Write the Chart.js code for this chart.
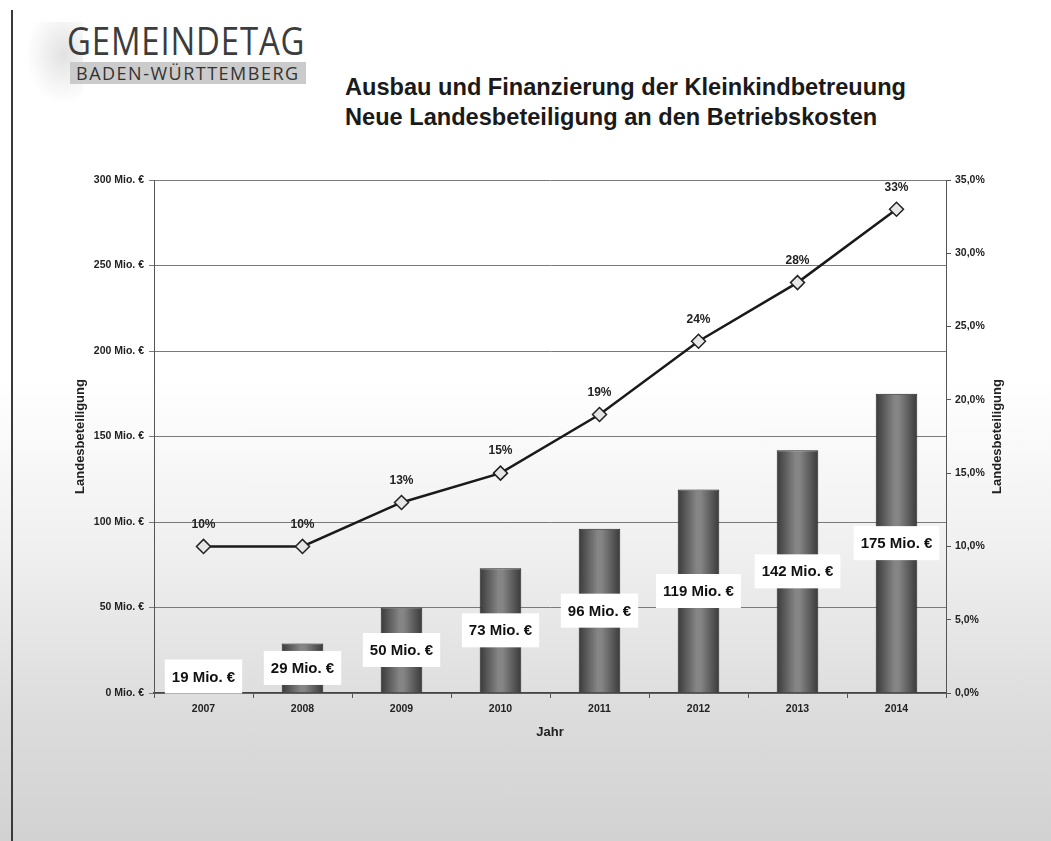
<!DOCTYPE html>
<html>
<head>
<meta charset="utf-8">
<script src="https://cdn.jsdelivr.net/npm/chart.js@4"></script>
<style>
  html, body { margin: 0; padding: 0; }
  body {
    width: 1051px; height: 841px; overflow: hidden; position: relative;
    background: linear-gradient(180deg, #ffffff 0%, #ffffff 45%, #f0f0f0 65%, #dcdcdc 85%, #d2d2d2 100%);
    font-family: "Liberation Sans", Arial, sans-serif;
  }
  #wrap { position: absolute; left: 0; top: 0; width: 1051px; height: 841px; }
  .vline { position: absolute; left: 11px; top: 10px; width: 2px; height: 831px; background: #3a3a3a; }
  .smudge { position: absolute; left: 28px; top: 22px; width: 55px; height: 80px;
    background: radial-gradient(ellipse at 65% 40%, rgba(190,190,190,0.45) 0%, rgba(210,210,210,0.2) 50%, rgba(255,255,255,0) 75%); }
  .logo1 { position: absolute; left: 67px; top: 21px; font-family: "Open Sans", sans-serif; font-weight: 400;
    font-size: 38px; letter-spacing: 1px; color: #3c3c3c; line-height: 1; transform: scaleX(0.865); transform-origin: left top; }
  .band { position: absolute; left: 70px; top: 62px; width: 236px; height: 22px; background: #cbcbcb; }
  .logo2 { position: absolute; left: 76px; top: 62px; font-family: "Open Sans", sans-serif; font-weight: 400;
    font-size: 18px; letter-spacing: 1.5px; color: #333; line-height: 22px; }
  .title { position: absolute; left: 345px; top: 72px; font-weight: bold; font-size: 23.6px; color: #1a1a1a; line-height: 30px; }
</style>
</head>
<body>
<div class="vline"></div>
<div class="smudge"></div>
<div class="logo1">GEMEINDETAG</div>
<div class="band"></div>
<div class="logo2">BADEN-WÜRTTEMBERG</div>
<div class="title">Ausbau und Finanzierung der Kleinkindbetreuung<br>Neue Landesbeteiligung an den Betriebskosten</div>
<div id="wrap"><canvas id="c"></canvas></div>
<script>
// ---- data ----
const years = ['2007', '2008', '2009', '2010', '2011', '2012', '2013', '2014'];
const fundingMio = [19, 29, 50, 73, 96, 119, 142, 175];
const sharePercent = [10, 10, 13, 15, 19, 24, 28, 33];
const leftTicksMax = 300;
const rightTicksMax = 35;
const axisTitle = 'Landesbeteiligung';
const xTitle = 'Jahr';

const FONT = '"Liberation Sans", Arial, sans-serif';
const BAR_PCT = 0.42;

function barGradient(ctx) {
  const chart = ctx.chart;
  const xs = chart.scales && chart.scales.x;
  if (!chart.chartArea || !xs || ctx.dataIndex === undefined) return '#666';
  const x = xs.getPixelForValue(ctx.dataIndex);
  const w = (xs.width / years.length) * BAR_PCT;
  if (!isFinite(x) || !isFinite(w) || w <= 0) return '#666';
  const g = chart.ctx.createLinearGradient(x - w / 2, 0, x + w / 2, 0);
  g.addColorStop(0, '#3a3a3a');
  g.addColorStop(0.45, '#858585');
  g.addColorStop(0.55, '#858585');
  g.addColorStop(1, '#3a3a3a');
  return g;
}

const labelPlugin = {
  id: 'labels',
  afterDatasetsDraw(chart) {
    const ctx = chart.ctx;
    ctx.save();
    const barMeta = chart.getDatasetMeta(0);
    ctx.font = 'bold 15px ' + FONT;
    ctx.textAlign = 'center';
    ctx.textBaseline = 'middle';
    barMeta.data.forEach((el, i) => {
      const txt = fundingMio[i] + ' Mio. €';
      const cy = (el.y + el.base) / 2;
      const w = ctx.measureText(txt).width + 14;
      const h = 34;
      ctx.fillStyle = '#ffffff';
      ctx.fillRect(el.x - w / 2, cy - h / 2, w, h);
      ctx.fillStyle = '#111';
      ctx.fillText(txt, el.x, cy + 1);
    });
    const lineMeta = chart.getDatasetMeta(1);
    ctx.font = 'bold 12px ' + FONT;
    ctx.fillStyle = '#222';
    lineMeta.data.forEach((el, i) => {
      ctx.fillText(sharePercent[i] + '%', el.x, el.y - 22);
    });
    ctx.restore();
  },
  afterDraw(chart) {
    // right axis title, reading bottom-to-top like the left one
    const s = chart.scales.y1;
    const ctx = chart.ctx;
    ctx.save();
    ctx.translate(s.right - 11.8, (chart.chartArea.top + chart.chartArea.bottom) / 2);
    ctx.rotate(-Math.PI / 2);
    ctx.font = 'bold 13px ' + FONT;
    ctx.fillStyle = '#222';
    ctx.textAlign = 'center';
    ctx.textBaseline = 'middle';
    ctx.fillText(axisTitle, 0, 0);
    ctx.restore();
  }
};

new Chart(document.getElementById('c'), {
  data: {
    labels: years,
    datasets: [
      {
        type: 'bar',
        label: 'Landesbeteiligung (Mio. €)',
        data: fundingMio,
        yAxisID: 'y',
        backgroundColor: barGradient,
        borderColor: '#222',
        borderWidth: 1,
        categoryPercentage: 1,
        barPercentage: BAR_PCT,
        order: 2
      },
      {
        type: 'line',
        label: 'Anteil',
        data: sharePercent,
        yAxisID: 'y1',
        borderColor: '#1a1a1a',
        borderWidth: 2.5,
        pointStyle: 'rectRot',
        pointRadius: 7,
        pointBackgroundColor: '#e6e6e6',
        pointBorderColor: '#222',
        pointBorderWidth: 1.5,
        tension: 0,
        order: 1
      }
    ]
  },
  options: {
    responsive: true,
    maintainAspectRatio: false,
    animation: false,
    devicePixelRatio: 1,
    layout: { padding: { left: 69, right: 42, top: 180, bottom: 97 } },
    plugins: { legend: { display: false }, tooltip: { enabled: false } },
    scales: {
      x: {
        offset: true,
        grid: { drawOnChartArea: false, drawTicks: true, tickLength: 5, offset: true, color: '#555' },
        border: { color: '#444', width: 1.5 },
        ticks: { font: { family: FONT, size: 10.5, weight: 'bold' }, color: '#222', padding: 5 },
        title: { display: true, text: xTitle, font: { family: FONT, size: 13, weight: 'bold' }, color: '#222' },
        afterFit(s) { s.height = 51; }
      },
      y: {
        position: 'left',
        min: 0, max: leftTicksMax,
        ticks: { stepSize: 50, font: { family: FONT, size: 10.5, weight: 'bold' }, color: '#222', padding: 5,
          callback: v => v + ' Mio. €' },
        grid: { color: '#7a7a7a', lineWidth: 1, tickLength: 5 },
        border: { color: '#555', width: 1 },
        title: { display: true, text: axisTitle, font: { family: FONT, size: 13, weight: 'bold' }, color: '#222' },
        afterFit(s) { s.width = 85; }
      },
      y1: {
        position: 'right',
        min: 0, max: rightTicksMax,
        ticks: { stepSize: 5, font: { family: FONT, size: 10.5, weight: 'bold' }, color: '#222', padding: 4,
          callback: v => v.toFixed(1).replace('.', ',') + '%' },
        grid: { drawOnChartArea: false, tickLength: 5, color: '#555' },
        border: { color: '#555', width: 1 },
        title: { display: false },
        afterFit(s) { s.width = 63; }
      }
    }
  },
  plugins: [labelPlugin]
});
</script>
</body>
</html>
